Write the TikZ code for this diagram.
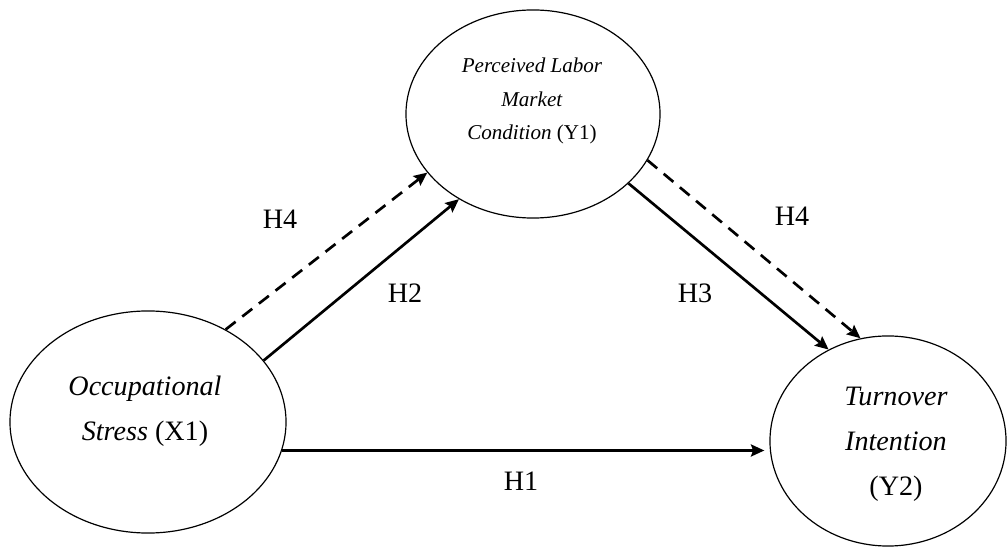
\documentclass[tikz,border=0pt]{standalone}
\usepackage{fontspec}
\setmainfont{Liberation Serif}
\usetikzlibrary{arrows.meta,shapes.geometric,calc}
\tikzset{
  latent/.style={draw, ellipse, line width=0.85pt, inner sep=0pt},
  vartext/.style={align=center, font=\fontsize{20}{32}\selectfont},
  smalltext/.style={align=center, font=\fontsize{15}{24}\selectfont},
  hlab/.style={font=\fontsize{20}{24}\selectfont},
  hyp/.style={-{Stealth[length=9.5pt,width=8.5pt,inset=1.5pt]}, line width=1.9pt},
  hypmed/.style={hyp, dash pattern=on 9pt off 6pt},
}

\begin{document}
\begin{tikzpicture}[x=0.025cm,y=0.025cm]
  \useasboundingbox (0,0) rectangle (1008,547);
  % the three variables
  \node[latent, minimum width=6.9cm, minimum height=5.55cm] (x1) at (148,125) {};
  \node[latent, minimum width=6.35cm, minimum height=5.2cm] (y1) at (533,433) {};
  \node[latent, minimum width=5.9cm, minimum height=5.25cm] (y2) at (888,106) {};
  \node[vartext] (x1txt) at ($(x1)+(-3,11)$) {\textit{Occupational}\\\textit{Stress} (X1)};
  \node[smalltext] (y1txt) at ($(y1)+(-1,13)$) {\textit{Perceived Labor}\\\textit{Market}\\\textit{Condition} (Y1)};
  \node[vartext] (y2txt) at ($(y2)+(8,-3)$) {\textit{Turnover}\\\textit{Intention}\\(Y2)};
  % direct paths
  \coordinate (h1a) at (x1.348);
  \draw[hyp, line width=2.2pt] (h1a) -- ($(h1a -| y2.west)+(-5,0)$);
  \draw[hyp] (x1.28) -- (y1.229);
  \draw[hyp] (y1.324) -- (y2.123);
  % mediated path (dashed)
  \draw[hypmed] (x1.50) -- (y1.209);
  \draw[hypmed] (y1.338) -- (y2.105);
  % hypothesis labels
  \node[hlab] (h1) at (521,66) {H1};
  \node[hlab] (h2) at (405,254) {H2};
  \node[hlab] (h3) at (695,254) {H3};
  \node[hlab] (h4l) at (280,328) {H4};
  \node[hlab] (h4r) at (792,331) {H4};
\end{tikzpicture}
\end{document}
